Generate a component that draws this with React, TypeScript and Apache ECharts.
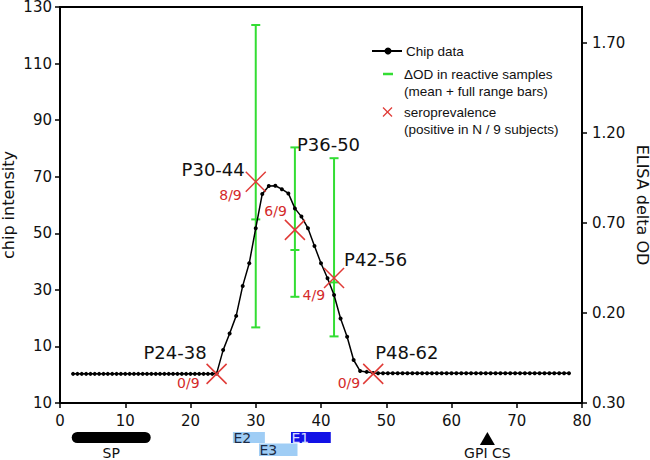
import React, { useEffect, useRef } from "react";
import * as echarts from "echarts";

// ---- Chip data: peptide start position vs chip intensity ----
const chipPositions = [
  2, 2.67, 3.33, 4, 4.67, 5.33, 6, 6.67, 7.33, 8, 8.67, 9.33, 10, 10.67, 11.33, 12, 12.67,
  13.33, 14, 14.67, 15.33, 16, 16.67, 17.33, 18, 18.67, 19.33, 20, 20.67, 21.33, 22, 22.67, 23.33,
  24, 25, 26, 27, 28, 29, 30, 31, 32, 33, 34, 35, 36, 37, 38, 39, 40, 41, 42, 43, 44, 45, 46, 47,
  48, 48.75, 49.5, 50.25, 51, 51.75, 52.5, 53.25, 54, 54.75, 55.5, 56.25, 57, 57.75, 58.5, 59.25,
  60, 60.75, 61.5, 62.25, 63, 63.75, 64.5, 65.25, 66, 66.75, 67.5, 68.25, 69, 69.75, 70.5, 71.25,
  72, 72.75, 73.5, 74.25, 75, 75.75, 76.5, 77.25, 78,
];
const chipIntensity = [
  0.3, 0.3, 0.3, 0.3, 0.3, 0.3, 0.3, 0.3, 0.3, 0.3, 0.3, 0.3, 0.3, 0.3, 0.3, 0.3, 0.3,
  0.3, 0.3, 0.3, 0.3, 0.3, 0.3, 0.3, 0.3, 0.3, 0.3, 0.3, 0.3, 0.3, 0.3, 0.3, 0.3,
  0.4, 8.7, 14.6, 20.8, 31.4, 39.4, 51.8, 63.9, 66.7, 66.8, 65.6, 64.1, 58.8, 55.9, 51.8, 45.5,
  39.4, 34.1, 28.2, 19.9, 13.4, 5.2, 1.3, 1.0,
  0.6, 0.5, 0.5, 0.5, 0.5, 0.5, 0.5, 0.5, 0.5, 0.5, 0.5, 0.5, 0.5, 0.5, 0.5, 0.5,
  0.5, 0.5, 0.5, 0.5, 0.5, 0.5, 0.5, 0.5, 0.5, 0.5, 0.5, 0.5, 0.5, 0.5, 0.5, 0.5,
  0.5, 0.5, 0.5, 0.5, 0.5, 0.5, 0.5, 0.5, 0.5,
];

// ---- ELISA delta OD in reactive samples (right axis) ----
const elisaPositions = [30, 36, 42];
const elisaMean = [0.72, 0.55, 0.37];
const elisaMin = [0.12, 0.29, 0.07];
const elisaMax = [1.8, 1.12, 1.06];

// ---- Seroprevalence markers ----
const seroPositions = [24, 30, 36, 42, 48];
const seroLevel = [0.3, 68.2, 51.2, 34.2, 0.3];
const seroFractions = ["0/9", "8/9", "6/9", "4/9", "0/9"];
const peptideNames = ["P24-38", "P30-44", "P36-50", "P42-56", "P48-62"];

// ---- Axes ----
const leftMin = -10;
const leftMax = 130;
const leftStep = 20;
const rightMin = -0.3;
const rightMax = 1.9;
const rightTickValues = [-0.3, 0.2, 0.7, 1.2, 1.7];
const xMin = 0;
const xMax = 80;
const xStep = 10;

// ---- Protein domains under the axis ----
const domainNames = ["SP", "E2", "E3", "E1"];
const domainStart = [1.8, 26.5, 30.5, 35.4];
const domainEnd = [13.9, 31.4, 36.4, 41.5];
const siteNames = ["GPI CS"];
const sitePositions = [65.5];

// layout / style (not data)
const domainStyles = [
  { row: 0, fill: "#000000", r: 5.5, label: "below", color: "#111111" },
  { row: 0, fill: "#9fcdf5", r: 0, label: "inside", color: "#1c2b45" },
  { row: 1, fill: "#9fcdf5", r: 0, label: "inside", color: "#1c2b45" },
  { row: 0, fill: "#1212e6", r: 0, label: "inside", color: "#d6ddff" },
];
const peptideLabelOffsets = [
  { dx: -10, dy: -21, align: "right" },
  { dx: -11, dy: -12, align: "right" },
  { dx: 2, dy: -85, align: "left" },
  { dx: 10, dy: -18, align: "left" },
  { dx: 2, dy: -21, align: "left" },
];
const fractionOffsets = [
  { dx: -17, dy: 9 },
  { dx: -14, dy: 13 },
  { dx: -8, dy: -19 },
  { dx: -9, dy: 17 },
  { dx: -13, dy: 9 },
];

const GREEN = "#33dd33";
const RED = "#e03a36";
const DV = "DejaVu Sans";
const LS = "Liberation Sans";

export default function App() {
  const ref = useRef<HTMLDivElement>(null);

  useEffect(() => {
    if (!ref.current) return;
    const chart = echarts.init(ref.current, undefined, { renderer: "svg" });

    const chipData = chipPositions.map((x, i) => [x, chipIntensity[i]]);
    const elisaData = elisaPositions.map((x, i) => [x, elisaMin[i], elisaMax[i], elisaMean[i]]);
    const seroData = seroPositions.map((x, i) => [x, seroLevel[i]]);
    const domainData = domainNames.map((_, i) => [domainStart[i], domainEnd[i]]);
    const siteData = sitePositions.map((x) => [x]);

    const option: any = {
      animation: false,
      backgroundColor: "#ffffff",
      grid: {
        left: 60,
        right: 68,
        top: 7,
        bottom: 57,
        containLabel: false,
        outerBoundsMode: "none",
        show: true,
        borderColor: "#000",
        borderWidth: 2,
        backgroundColor: "transparent",
      },
      xAxis: {
        type: "value",
        min: xMin,
        max: xMax,
        interval: xStep,
        axisLine: { onZero: false, lineStyle: { color: "#000", width: 2 } },
        axisTick: { show: true, length: 5, lineStyle: { color: "#000", width: 1.5 } },
        axisLabel: { color: "#111", fontFamily: DV, fontSize: 15, margin: 10 },
        splitLine: { show: false },
      },
      yAxis: [
        {
          type: "value",
          min: leftMin,
          max: leftMax,
          interval: leftStep,
          name: "chip intensity",
          nameLocation: "middle",
          nameGap: 44,
          nameMoveOverlap: false,
          nameTextStyle: { color: "#111", fontFamily: DV, fontSize: 16 },
          axisLine: { show: true, onZero: false, lineStyle: { color: "#000", width: 2 } },
          axisTick: { show: true, length: 5, lineStyle: { color: "#000", width: 1.5 } },
          axisLabel: {
            color: "#111",
            fontFamily: DV,
            fontSize: 15,
            margin: 8,
            formatter: (v: number) => String(Math.abs(v)),
          },
          splitLine: { show: false },
        },
        {
          type: "value",
          position: "right",
          min: rightMin,
          max: rightMax,
          name: "ELISA delta OD",
          nameLocation: "middle",
          nameRotate: -90,
          nameGap: 52,
          nameMoveOverlap: false,
          nameTextStyle: { color: "#111", fontFamily: DV, fontSize: 16 },
          axisLine: { show: true, onZero: false, lineStyle: { color: "#000", width: 2 } },
          axisTick: {
            show: true,
            length: 5,
            customValues: rightTickValues,
            lineStyle: { color: "#000", width: 1.5 },
          },
          axisLabel: {
            color: "#111",
            fontFamily: DV,
            fontSize: 15,
            margin: 10,
            customValues: rightTickValues,
            formatter: (v: number) => Math.abs(v).toFixed(2),
          },
          splitLine: { show: false },
        },
      ],
      series: [
        {
          name: "Chip data",
          type: "line",
          data: chipData,
          symbol: "circle",
          symbolSize: 4,
          itemStyle: { color: "#000" },
          lineStyle: { color: "#000", width: 1.5 },
          z: 3,
        },
        {
          name: "ΔOD in reactive samples",
          type: "custom",
          yAxisIndex: 1,
          data: elisaData,
          encode: { x: 0, y: [1, 2, 3] },
          z: 2,
          renderItem: (params: any, api: any) => {
            const x = api.value(0);
            const lo = api.coord([x, api.value(1)]);
            const hi = api.coord([x, api.value(2)]);
            const mn = api.coord([x, api.value(3)]);
            const w = 4.5;
            const st = { stroke: GREEN, lineWidth: 2 };
            return {
              type: "group",
              children: [
                { type: "line", shape: { x1: lo[0], y1: lo[1], x2: hi[0], y2: hi[1] }, style: st },
                { type: "line", shape: { x1: lo[0] - w, y1: lo[1], x2: lo[0] + w, y2: lo[1] }, style: st },
                { type: "line", shape: { x1: hi[0] - w, y1: hi[1], x2: hi[0] + w, y2: hi[1] }, style: st },
                { type: "line", shape: { x1: mn[0] - w, y1: mn[1], x2: mn[0] + w, y2: mn[1] }, style: st },
              ],
            };
          },
        },
        {
          name: "seroprevalence",
          type: "custom",
          data: seroData,
          encode: { x: 0, y: 1 },
          z: 4,
          renderItem: (params: any, api: any) => {
            const i = params.dataIndex;
            const p = api.coord([api.value(0), api.value(1)]);
            const a = 10;
            const st = { stroke: RED, lineWidth: 1.5 };
            const po = peptideLabelOffsets[i];
            const fo = fractionOffsets[i];
            return {
              type: "group",
              children: [
                { type: "line", shape: { x1: p[0] - a, y1: p[1] - a, x2: p[0] + a, y2: p[1] + a }, style: st },
                { type: "line", shape: { x1: p[0] - a, y1: p[1] + a, x2: p[0] + a, y2: p[1] - a }, style: st },
                {
                  type: "text",
                  x: p[0] + po.dx,
                  y: p[1] + po.dy,
                  style: {
                    text: peptideNames[i],
                    fill: "#111",
                    fontFamily: DV,
                    fontSize: 18,
                    align: po.align,
                    verticalAlign: "middle",
                  },
                },
                {
                  type: "text",
                  x: p[0] + fo.dx,
                  y: p[1] + fo.dy,
                  style: {
                    text: seroFractions[i],
                    fill: "#d42a2a",
                    fontFamily: DV,
                    fontSize: 14,
                    align: "right",
                    verticalAlign: "middle",
                  },
                },
              ],
            };
          },
        },
        {
          name: "domains",
          type: "custom",
          data: domainData,
          encode: { x: [0, 1] },
          clip: false,
          silent: true,
          renderItem: (params: any, api: any) => {
            const i = params.dataIndex;
            const s = api.coord([api.value(0), leftMin]);
            const e = api.coord([api.value(1), leftMin]);
            const base = s[1];
            const ds = domainStyles[i];
            const top = base + 29 + ds.row * 11.5;
            const h = ds.row === 0 ? 11 : 12.5;
            const children: any[] = [
              {
                type: "rect",
                shape: { x: s[0], y: top, width: e[0] - s[0], height: h, r: ds.r },
                style: { fill: ds.fill },
              },
            ];
            if (ds.label === "below") {
              children.push({
                type: "text",
                x: (s[0] + e[0]) / 2,
                y: base + 50,
                style: { text: domainNames[i], fill: ds.color, fontFamily: DV, fontSize: 14, align: "center", verticalAlign: "middle" },
              });
            } else {
              children.push({
                type: "text",
                x: s[0] + 0.5,
                y: top + h / 2 + 0.5,
                style: { text: domainNames[i], fill: ds.color, fontFamily: DV, fontSize: 14, align: "left", verticalAlign: "middle" },
              });
            }
            return { type: "group", children };
          },
        },
        {
          name: "sites",
          type: "custom",
          data: siteData,
          encode: { x: 0 },
          clip: false,
          silent: true,
          renderItem: (params: any, api: any) => {
            const i = params.dataIndex;
            const c = api.coord([api.value(0), leftMin]);
            const base = c[1];
            return {
              type: "group",
              children: [
                {
                  type: "polygon",
                  shape: { points: [[c[0] - 7.5, base + 42], [c[0] + 7.5, base + 42], [c[0], base + 29]] },
                  style: { fill: "#000" },
                },
                {
                  type: "text",
                  x: c[0],
                  y: base + 50,
                  style: { text: siteNames[i], fill: "#111", fontFamily: DV, fontSize: 14, align: "center", verticalAlign: "middle" },
                },
              ],
            };
          },
        },
      ],
      graphic: [
        // legend: chip data
        { type: "line", shape: { x1: 372, y1: 51, x2: 402, y2: 51 }, style: { stroke: "#000", lineWidth: 2 } },
        { type: "circle", shape: { cx: 388, cy: 51, r: 3.5 }, style: { fill: "#000" } },
        { type: "text", x: 406, y: 51, style: { text: "Chip data", fill: "#111", fontFamily: LS, fontSize: 13.5, verticalAlign: "middle" } },
        // legend: delta OD
        { type: "line", shape: { x1: 383, y1: 74, x2: 393, y2: 74 }, style: { stroke: GREEN, lineWidth: 2.5 } },
        { type: "text", x: 404, y: 74, style: { text: "ΔOD in reactive samples", fill: "#111", fontFamily: LS, fontSize: 13.5, verticalAlign: "middle" } },
        { type: "text", x: 404, y: 91, style: { text: "(mean + full range bars)", fill: "#111", fontFamily: LS, fontSize: 13.5, verticalAlign: "middle" } },
        // legend: seroprevalence
        { type: "line", shape: { x1: 383, y1: 107.5, x2: 392, y2: 116.5 }, style: { stroke: RED, lineWidth: 1.2 } },
        { type: "line", shape: { x1: 383, y1: 116.5, x2: 392, y2: 107.5 }, style: { stroke: RED, lineWidth: 1.2 } },
        { type: "text", x: 404, y: 112, style: { text: "seroprevalence", fill: "#111", fontFamily: LS, fontSize: 13.5, verticalAlign: "middle" } },
        { type: "text", x: 404, y: 129, style: { text: "(positive in N / 9 subjects)", fill: "#111", fontFamily: LS, fontSize: 13.5, verticalAlign: "middle" } },
      ],
    };

    chart.setOption(option);
    return () => chart.dispose();
  }, []);

  return (
    <div
      ref={ref}
      style={{ position: "fixed", left: 0, top: 0, width: 650, height: 460, background: "#fff" }}
    />
  );
}
